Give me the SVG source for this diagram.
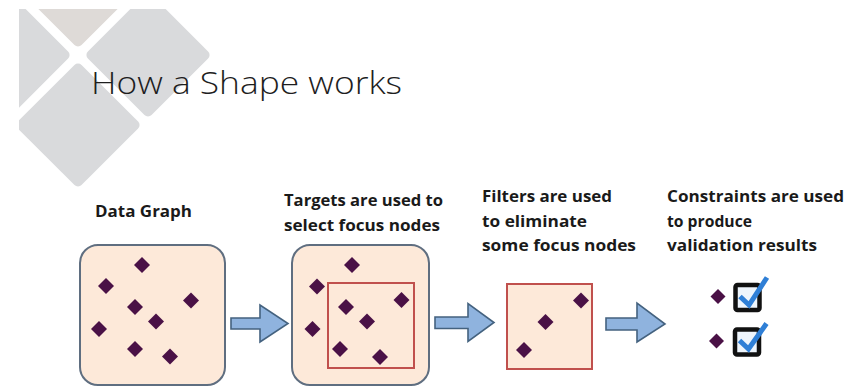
<svg xmlns="http://www.w3.org/2000/svg" width="856" height="389" viewBox="0 0 856 389">
<defs>
<style>
.title{font-family:"Open Sans","Liberation Sans",sans-serif;font-weight:300;font-size:31px;fill:#1e1e1e}
.hd{font-family:"Open Sans","Liberation Sans",sans-serif;font-weight:700;font-size:16.5px;fill:#1a1a1a}
.graph{fill:#fde9d9;stroke:#5f6e80;stroke-width:2}
.sel{fill:none;stroke:#c0504d;stroke-width:2}
.dot{fill:#4a1146}
.arrow{fill:#8fb3de;stroke:#44627f;stroke-width:1.6;stroke-linejoin:miter}
.bg{fill:#d9dadc}
.cb{fill:#eef5fc;stroke:#111;stroke-width:4.5}
.ck{fill:none;stroke:#2f7fd6;stroke-width:5;stroke-linejoin:miter;stroke-linecap:butt}
</style>
<clipPath id="slide"><rect x="19" y="9" width="837" height="380"/></clipPath>
<path id="d" d="M0,-8 L8,0 L0,8 L-8,0 Z"/>
<path id="ds" d="M0,-7.5 L7.5,0 L0,7.5 L-7.5,0 Z"/>
</defs>
<rect width="856" height="389" fill="#ffffff"/>
<g id="background" clip-path="url(#slide)">
<rect class="bg" x="-45" y="-45" width="90" height="90" rx="5" transform="translate(8,55) rotate(45)"/>
<rect x="-45" y="-45" width="90" height="90" rx="5" fill="#dedad7" transform="translate(78,-15) rotate(45)"/>
<rect class="bg" x="-45" y="-45" width="90" height="90" rx="5" transform="translate(148,55) rotate(45)"/>
<rect class="bg" x="-45" y="-45" width="90" height="90" rx="5" transform="translate(78,125) rotate(45)"/>
</g>
<g id="title"><text class="title" x="91" y="94" textLength="311" lengthAdjust="spacingAndGlyphs">How a Shape works</text></g>
<g id="data-graph">
<text class="hd" x="95" y="217" textLength="97" lengthAdjust="spacingAndGlyphs">Data Graph</text>
<rect class="graph" x="80" y="245" width="145" height="140" rx="18"/>
<use href="#d" class="dot" x="142" y="265"/>
<use href="#d" class="dot" x="106" y="286"/>
<use href="#d" class="dot" x="191" y="300.5"/>
<use href="#d" class="dot" x="135" y="307"/>
<use href="#d" class="dot" x="156" y="321.5"/>
<use href="#d" class="dot" x="99" y="329"/>
<use href="#d" class="dot" x="135" y="349"/>
<use href="#d" class="dot" x="170" y="356.5"/>
</g>
<g id="targets">
<text class="hd" x="284" y="206"><tspan x="284" textLength="159" lengthAdjust="spacingAndGlyphs">Targets are used to</tspan><tspan x="284" y="231" textLength="156" lengthAdjust="spacingAndGlyphs">select focus nodes</tspan></text>
<rect class="graph" x="292" y="245" width="137" height="140" rx="18"/>
<rect class="sel" x="328" y="283" width="86" height="85"/>
<use href="#d" class="dot" x="352" y="265"/>
<use href="#d" class="dot" x="317" y="286.5"/>
<use href="#d" class="dot" x="401.5" y="300"/>
<use href="#d" class="dot" x="346" y="307"/>
<use href="#d" class="dot" x="367" y="321.5"/>
<use href="#d" class="dot" x="312.5" y="329"/>
<use href="#d" class="dot" x="340" y="349"/>
<use href="#d" class="dot" x="380" y="357"/>
</g>
<g id="filters">
<text class="hd" x="482" y="202"><tspan x="482" textLength="130" lengthAdjust="spacingAndGlyphs">Filters are used</tspan><tspan x="482" y="226.5" textLength="105" lengthAdjust="spacingAndGlyphs">to eliminate</tspan><tspan x="482" y="251" textLength="154" lengthAdjust="spacingAndGlyphs">some focus nodes</tspan></text>
<rect x="507" y="284" width="85" height="85" fill="#fde9d9" stroke="#c0504d" stroke-width="2"/>
<use href="#d" class="dot" x="581" y="300.5"/>
<use href="#d" class="dot" x="545.5" y="322"/>
<use href="#d" class="dot" x="524" y="350"/>
</g>
<g id="constraints">
<text class="hd" x="667" y="202"><tspan x="667" textLength="177" lengthAdjust="spacingAndGlyphs">Constraints are used</tspan><tspan x="667" y="226.5" textLength="85" lengthAdjust="spacingAndGlyphs">to produce</tspan><tspan x="667" y="251" textLength="150" lengthAdjust="spacingAndGlyphs">validation results</tspan></text>
<use href="#ds" class="dot" x="718" y="296.5"/>
<rect class="cb" x="735.5" y="285" width="24" height="25" rx="2"/>
<polyline class="ck" points="740,296.5 749,305 767,277.5"/>
<use href="#ds" class="dot" x="716.5" y="341"/>
<rect class="cb" x="735" y="329.5" width="24" height="25" rx="2"/>
<polyline class="ck" points="739.5,340.5 748.5,349 766.5,323.5"/>
</g>
<g id="connectors">
<polygon class="arrow" points="231,318 260,318 260,305 288,323.5 260,342 260,329 231,329"/>
<polygon class="arrow" points="435,317 468,317 468,303.5 494,322.5 468,341.5 468,328.5 435,328.5"/>
<polygon class="arrow" points="606,318 637,318 637,303 665,324 637,342 637,330 606,330"/>
</g>
</svg>
